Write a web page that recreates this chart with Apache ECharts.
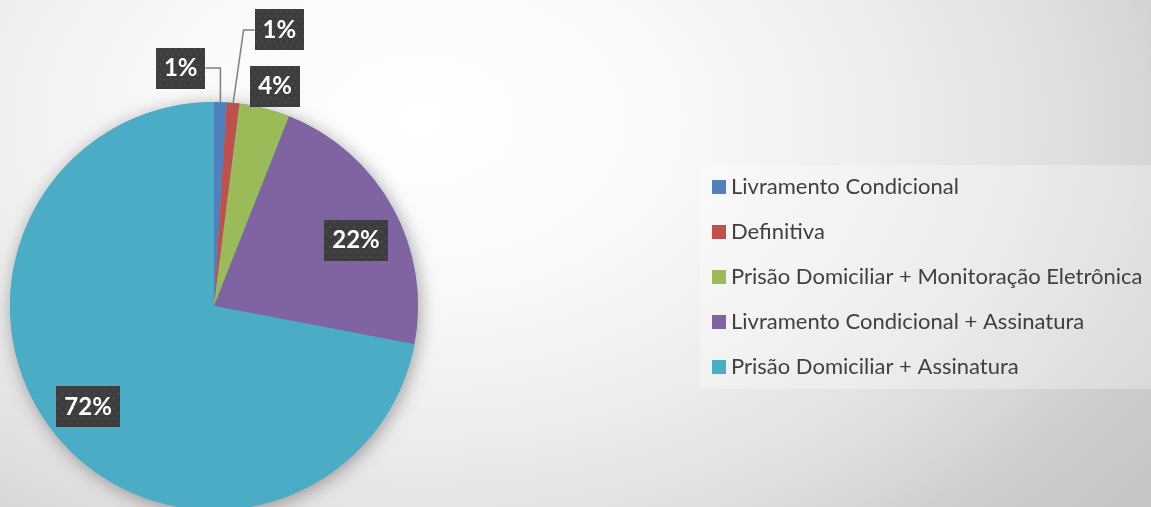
<!DOCTYPE html>
<html>
<head>
<meta charset="utf-8">
<script src="https://cdn.jsdelivr.net/npm/echarts@6/dist/echarts.min.js"></script>
<style>
  html, body { margin: 0; padding: 0; }
  #chart {
    width: 1151px; height: 507px;
    background: radial-gradient(ellipse 900px 600px at 420px 120px,
      #ffffff 0%, #f9f9f9 28%, #eeeeee 50%, #e2e2e2 68%, #d7d7d7 80%, #cfcfcf 86%, #c6c6c6 100%);
  }
</style>
</head>
<body>
<div id="chart"></div>
<script>
// Tipos de liberação (participação percentual)
const categories = [
  'Livramento Condicional',
  'Definitiva',
  'Prisão Domiciliar + Monitoração Eletrônica',
  'Livramento Condicional + Assinatura',
  'Prisão Domiciliar + Assinatura'
];
const shares = [1, 1, 4, 22, 72];
const palette = ['#4f81bd', '#c0504d', '#9bbb59', '#8064a2', '#4bacc6'];

// label placement: which side the leader line leaves from (null = no leader)
const leaderSide = ['right', 'left', null, null, null];
const labelShift = [[-85, -19], [0, -58], [35, -118], [50, -15], [-45, 34]];

// dotted dark tile used behind the value labels
function dotTile(w, h) {
  const c = document.createElement('canvas');
  c.width = w; c.height = h;
  const g = c.getContext('2d');
  g.fillStyle = '#3d3d3d';
  g.fillRect(0, 0, w, h);
  g.fillStyle = '#4b4b4b';
  for (let y = 2, row = 0; y < h; y += 5, row++) {
    for (let x = (row % 2 ? 6 : 2); x < w; x += 8) {
      g.beginPath();
      g.arc(x, y, 1.3, 0, Math.PI * 2);
      g.fill();
    }
  }
  return c;
}
const tile = dotTile(64, 41);

const chart = echarts.init(document.getElementById('chart'), null, { renderer: 'canvas' });

const sliceData = categories.map((name, i) => ({
  name: name,
  value: shares[i],
  itemStyle: { color: palette[i] },
  label: { position: leaderSide[i] ? 'outside' : 'inside' },
  labelLine: { show: !!leaderSide[i] }
}));

chart.setOption({
  backgroundColor: 'transparent',
  animation: false,
  legend: {
    data: categories,
    orient: 'vertical',
    left: 700,
    top: 165,
    padding: [10, 20, 10, 12],
    itemWidth: 14,
    itemHeight: 14,
    itemGap: 21,
    icon: 'rect',
    backgroundColor: 'rgba(255,255,255,0.3)',
    selectedMode: false,
    textStyle: {
      fontFamily: 'Lato',
      fontSize: 22,
      lineHeight: 24,
      color: '#404040'
    }
  },
  series: [
    {
      // soft outer shadow under the pie
      type: 'pie',
      silent: true,
      center: [214, 306],
      radius: 204,
      z: 1,
      label: { show: false },
      labelLine: { show: false },
      itemStyle: {
        color: '#4bacc6',
        shadowBlur: 18,
        shadowColor: 'rgba(0,0,0,0.35)',
        shadowOffsetX: 2,
        shadowOffsetY: 3
      },
      emphasis: { disabled: true },
      data: [{ value: 1, name: '' }]
    },
    {
      type: 'pie',
      center: [214, 306],
      radius: 204,
      startAngle: 90,
      clockwise: true,
      z: 2,
      avoidLabelOverlap: false,
      emphasis: { disabled: true },
      itemStyle: { borderWidth: 0 },
      label: {
        show: true,
        formatter: '{c}%',
        fontFamily: 'Lato',
        fontWeight: 'bold',
        fontSize: 24,
        lineHeight: 25,
        color: '#ffffff',
        padding: [8, 8],
        backgroundColor: { image: tile },
        shadowBlur: 4,
        shadowOffsetX: 3,
        shadowOffsetY: 3,
        shadowColor: 'rgba(0,0,0,0.45)'
      },
      labelLine: {
        length: 15,
        length2: 15,
        lineStyle: { color: '#808080', width: 1.5 }
      },
      labelLayout: function (p) {
        const s = labelShift[p.dataIndex];
        const out = { dx: s[0], dy: s[1] };
        const side = leaderSide[p.dataIndex];
        if (side && p.labelLinePoints) {
          const r = p.labelRect;
          const left = r.x + s[0];
          const midY = r.y + s[1] + r.height / 2;
          const start = p.labelLinePoints[0];
          if (side === 'right') {
            out.labelLinePoints = [start, [start[0], midY], [left + r.width, midY]];
          } else {
            out.labelLinePoints = [start, [left - 11, midY], [left, midY]];
          }
        }
        return out;
      },
      data: sliceData
    }
  ]
});
</script>
</body>
</html>
